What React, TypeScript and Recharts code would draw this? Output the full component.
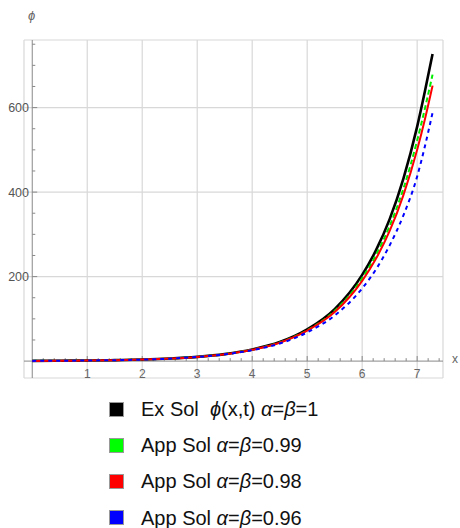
import React from "react";
import {
  LineChart,
  Line,
  XAxis,
  YAxis,
  CartesianGrid,
  ReferenceLine,
  Legend,
} from "recharts";

// sample points along x
const xValues = [0, 0.5, 1, 1.5, 2, 2.5, 3, 3.5, 4, 4.5, 5, 5.5, 6, 6.25, 6.5, 6.75, 7, 7.14, 7.28];

// Ex Sol  phi(x,t), alpha=beta=1
const exSol = [0.5, 0.8, 1.4, 2.3, 3.7, 6.1, 10.1, 16.6, 27.5, 45, 75, 123, 204, 262, 336, 432, 555, 638, 727];
// App Sol alpha=beta=0.99
const app099 = [0.5, 0.8, 1.4, 2.3, 3.7, 6.0, 10.0, 16.4, 27.1, 44, 73, 119, 196, 251, 320, 408, 522, 597, 678];
// App Sol alpha=beta=0.98
const app098 = [0.5, 0.8, 1.4, 2.3, 3.6, 5.9, 9.9, 16.2, 26.8, 43.5, 72, 116, 190, 242, 308, 393, 500, 572, 652];
// App Sol alpha=beta=0.96
const app096 = [0.5, 0.8, 1.4, 2.2, 3.6, 5.8, 9.8, 16.0, 26.0, 41.5, 68, 108, 172, 217, 274, 345, 437, 508, 588];

const xTicks = [1, 2, 3, 4, 5, 6, 7];
const yTicks = [200, 400, 600];
const xMinorTicks = Array.from({ length: 37 }, (_, i) => +(0.2 * (i + 1)).toFixed(1));
const yMinorTicks = Array.from({ length: 15 }, (_, i) => 50 * (i + 1));

const series = [
  { key: "ex", values: exSol, color: "#000000", swatch: "#000000", width: 2.6, dash: undefined },
  { key: "a99", values: app099, color: "#00ee00", swatch: "#00ff00", width: 2, dash: "5 3" },
  { key: "a98", values: app098, color: "#ff0000", swatch: "#ff0000", width: 2, dash: undefined },
  { key: "a96", values: app096, color: "#0000ff", swatch: "#0000ff", width: 2, dash: "4 4" },
];

const data = xValues.map((x, i) => {
  const row: Record<string, number> = { x };
  series.forEach((s) => (row[s.key] = s.values[i]));
  return row;
});

const greek = { fontStyle: "italic" as const };
const legendLabels: React.ReactNode[] = [
  <>Ex Sol&nbsp;&nbsp;<span style={greek}>ϕ</span>(x,t) <span style={greek}>α</span>=<span style={greek}>β</span>=1</>,
  <>App Sol <span style={greek}>α</span>=<span style={greek}>β</span>=0.99</>,
  <>App Sol <span style={greek}>α</span>=<span style={greek}>β</span>=0.98</>,
  <>App Sol <span style={greek}>α</span>=<span style={greek}>β</span>=0.96</>,
];

const tickFont = "'Liberation Sans', Arial, sans-serif";

function XTick({ x, y, payload }: any) {
  return (
    <text x={x} y={y} textAnchor="middle" fontSize={12} fill="#666" fontFamily={tickFont}>
      {payload.value}
    </text>
  );
}

function YTick({ x, y, payload }: any) {
  return (
    <text x={x + 5} y={y + 4.5} textAnchor="end" fontSize={12.5} fill="#555" fontFamily={tickFont}>
      {payload.value}
    </text>
  );
}

function LegendBox() {
  return (
    <div style={{ fontFamily: tickFont, fontSize: 20, color: "#111", lineHeight: "22px" }}>
      {series.map((s, i) => (
        <div key={s.key} style={{ display: "flex", alignItems: "center", height: 36.2 }}>
          <span
            style={{
              display: "inline-block",
              width: 13,
              height: 13,
              background: s.swatch,
              border: "1px solid #999",
              marginRight: 17,
            }}
          />
          <span style={{ whiteSpace: "nowrap" }}>{legendLabels[i]}</span>
        </div>
      ))}
    </div>
  );
}

export default function App() {
  return (
    <div style={{ position: "absolute", left: 0, top: 0, width: 460, height: 528, background: "#fff" }}>
      <LineChart width={460} height={528} data={data} margin={{ top: 40, right: 17, left: 0, bottom: 0 }}>
        <CartesianGrid stroke="#d8d8d8" strokeWidth={1.2} />
        <XAxis
          type="number"
          dataKey="x"
          domain={[-0.15, 7.47]}
          ticks={xTicks}
          axisLine={false}
          tickLine={false}
          tickSize={0}
          tickMargin={0}
          height={150}
          tick={<XTick />}
          allowDataOverflow
        />
        <YAxis
          type="number"
          domain={[-40, 760]}
          ticks={yTicks}
          axisLine={false}
          tickLine={false}
          tickSize={0}
          tickMargin={0}
          width={24}
          tick={<YTick />}
          allowDataOverflow
        />
        <ReferenceLine y={0} stroke="#888" strokeWidth={1} />
        <ReferenceLine x={0} stroke="#888" strokeWidth={1} />
        {xMinorTicks.map((t) => (
          <ReferenceLine
            key={`xt${t}`}
            segment={[{ x: t, y: 0 }, { x: t, y: Number.isInteger(t) ? 12 : 7 }]}
            stroke="#888"
          />
        ))}
        {yMinorTicks.map((t) => (
          <ReferenceLine
            key={`yt${t}`}
            segment={[{ x: 0, y: t }, { x: t % 200 === 0 ? 0.09 : 0.055, y: t }]}
            stroke="#888"
          />
        ))}
        {series.map((s) => (
          <Line
            key={s.key}
            type="monotone"
            dataKey={s.key}
            stroke={s.color}
            strokeWidth={s.width}
            strokeDasharray={s.dash}
            dot={false}
            isAnimationActive={false}
          />
        ))}
        <Legend
          layout="vertical"
          align="center"
          verticalAlign="middle"
          content={<LegendBox />}
          wrapperStyle={{ top: 391, left: 109, width: 340 }}
        />
      </LineChart>
      <div
        style={{
          position: "absolute",
          left: 28,
          top: 8,
          fontFamily: tickFont,
          fontStyle: "italic",
          fontSize: 13,
          color: "#666",
        }}
      >
        ϕ
      </div>
      <div
        style={{
          position: "absolute",
          left: 452,
          top: 352,
          fontFamily: tickFont,
          fontSize: 12,
          color: "#666",
        }}
      >
        x
      </div>
    </div>
  );
}
